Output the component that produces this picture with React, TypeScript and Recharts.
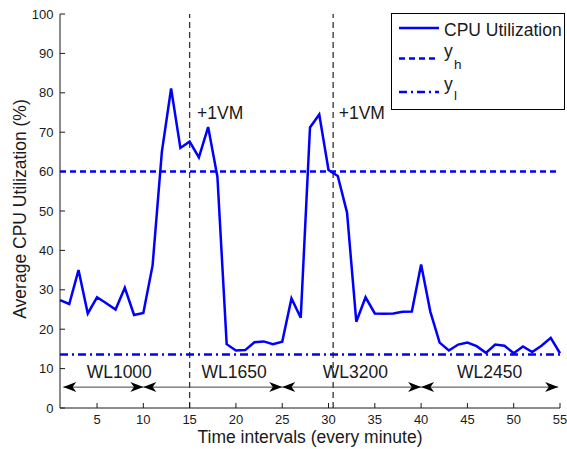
import React from "react"
import { LineChart, Line, XAxis, YAxis, ReferenceLine, ReferenceDot, Legend } from "recharts"

const FONT = '"Liberation Sans", Arial, Helvetica, sans-serif'
const BLUE = "#0000ff"
const INK = "#1a1a1a"

// one sample per minute
const minutes = [
  1, 2, 3, 4, 5, 6, 7, 8, 9, 10, 11, 12, 13, 14, 15, 16, 17, 18, 19, 20,
  21, 22, 23, 24, 25, 26, 27, 28, 29, 30, 31, 32, 33, 34, 35, 36, 37, 38, 39, 40,
  41, 42, 43, 44, 45, 46, 47, 48, 49, 50, 51, 52, 53, 54, 55,
]
const cpuUtilization = [
  27.4, 26.4, 35, 24, 28.1, 26.6, 25, 30.5, 23.6, 24.1, 36.2,
  65, 81.1, 66, 67.6, 63.6, 71.3, 58.7,
  16.2, 14.6, 14.7, 16.7, 16.9, 16.2, 16.8, 27.8, 22.9,
  71.2, 74.5, 60.4, 58.9, 49.6,
  21.9, 28.1, 24, 23.9, 24, 24.4, 24.5, 36.4,
  24.4, 16.6, 14.6, 16.1, 16.6, 15.7, 14, 16.1, 15.8, 13.9, 15.6, 14.2, 15.8, 17.8, 13.9,
]

const xTicks = [5, 10, 15, 20, 25, 30, 35, 40, 45, 50, 55]
const yTicks = [0, 10, 20, 30, 40, 50, 60, 70, 80, 90, 100]

// thresholds
const yHigh = 60
const yLow = 13.6

// scale-out events
const vmAddedAt = [15, 30.5]
const vmLabelX = [18.3, 33.6]
const vmLabelY = 75

// workload phases
const workloadNames = ["WL1000", "WL1650", "WL3200", "WL2450"]
const workloadStart = [1.35, 10, 25, 40]
const workloadEnd = [10, 25, 40, 54.8]
const workloadLabelX = [7.4, 19.8, 32.9, 47.4]
const workloadLabelY = 9.3
const arrowY = 5.3

const data = minutes.map((m, i) => ({ minute: m, cpu: cpuUtilization[i] }))

const BottomTick = (props: any) => {
  const { x, y, payload } = props
  return (
    <g>
      <line x1={x} x2={x} y1={y} y2={y - 5} stroke={INK} />
      <text x={x} y={y + 16} textAnchor="middle" fontSize={13} fill={INK} fontFamily={FONT}>
        {payload.value}
      </text>
    </g>
  )
}

const TopTick = (props: any) => {
  const { x, y } = props
  return <line x1={x} x2={x} y1={y} y2={y + 5} stroke={INK} />
}

const LeftTick = (props: any) => {
  const { x, y, payload } = props
  return (
    <g>
      <line x1={x} x2={x + 5} y1={y} y2={y} stroke={INK} />
      <text x={x - 6.5} y={y + 4.6} textAnchor="end" fontSize={13} fill={INK} fontFamily={FONT}>
        {payload.value}
      </text>
    </g>
  )
}

const RightTick = (props: any) => {
  const { x, y } = props
  return <line x1={x} x2={x - 5} y1={y} y2={y} stroke={INK} />
}

// double-headed arrow, MATLAB style heads
const arrowHead = (tx: number, y: number, dir: number) => {
  const L = 13
  const W = 5
  return `M${tx},${y} L${tx + dir * L},${y - W} L${tx + dir * L * 0.72},${y} L${tx + dir * L},${y + W} Z`
}

const DoubleArrow = (props: any) => {
  const { x1, y1, x2 } = props
  const left = Math.min(x1, x2)
  const right = Math.max(x1, x2)
  return (
    <g>
      <line x1={left} x2={right} y1={y1} y2={y1} stroke="#444" strokeWidth={1} />
      <path d={arrowHead(left, y1, 1)} fill="#000" />
      <path d={arrowHead(right, y1, -1)} fill="#000" />
    </g>
  )
}

const LegendBox = () => (
  <svg width={174} height={98} style={{ display: "block", fontFamily: FONT }}>
    <rect x={0.5} y={0.5} width={173} height={96} fill="#fff" stroke="#000" strokeWidth={1} />
    <line x1={8} x2={48} y1={15} y2={15} stroke={BLUE} strokeWidth={2.5} />
    <text x={53} y={22.5} fontSize={17.5} fill={INK}>CPU Utilization</text>
    <line x1={8} x2={48} y1={45.5} y2={45.5} stroke={BLUE} strokeWidth={2.5} strokeDasharray="6 4" />
    <text x={53} y={44} fontSize={17.5} fill={INK}>y</text>
    <text x={63} y={56} fontSize={13.5} fill={INK}>h</text>
    <line x1={8} x2={48} y1={79} y2={79} stroke={BLUE} strokeWidth={2.5} strokeDasharray="8 4 2 4" />
    <text x={53} y={77} fontSize={17.5} fill={INK}>y</text>
    <text x={63} y={87} fontSize={13.5} fill={INK}>l</text>
  </svg>
)

export default function App() {
  return (
    <div style={{ position: "absolute", left: 0, top: 0, width: 567, height: 449, background: "#fff" }}>
      <LineChart
        width={567}
        height={449}
        data={data}
        margin={{ top: 14, right: 7, bottom: 0, left: 15 }}
        style={{ fontFamily: FONT }}
      >
        <XAxis
          dataKey="minute"
          type="number"
          domain={[1, 55]}
          ticks={xTicks}
          interval={0}
          height={41}
          tickSize={0}
          tickMargin={0}
          tickLine={false}
          tick={<BottomTick />}
          axisLine={{ stroke: INK, strokeWidth: 1 }}
          label={() => (
            <text x={310} y={442.5} textAnchor="middle" fontSize={17.5} fill={INK} fontFamily={FONT}>
              Time intervals (every minute)
            </text>
          )}
        />
        <XAxis
          xAxisId="top"
          orientation="top"
          type="number"
          domain={[1, 55]}
          ticks={xTicks}
          interval={0}
          height={0}
          tickSize={0}
          tickMargin={0}
          tickLine={false}
          tick={<TopTick />}
          axisLine={{ stroke: INK, strokeWidth: 1 }}
        />
        <YAxis
          type="number"
          domain={[0, 100]}
          ticks={yTicks}
          interval={0}
          width={45}
          tickSize={0}
          tickMargin={0}
          tickLine={false}
          tick={<LeftTick />}
          axisLine={{ stroke: INK, strokeWidth: 1 }}
          label={() => (
            <text
              x={26}
              y={209}
              transform="rotate(-90 26 209)"
              textAnchor="middle"
              fontSize={17.5}
              fill={INK}
              fontFamily={FONT}
            >
              Average CPU Utilization (%)
            </text>
          )}
        />
        <YAxis
          yAxisId="right"
          orientation="right"
          type="number"
          domain={[0, 100]}
          ticks={yTicks}
          interval={0}
          width={0}
          tickSize={0}
          tickMargin={0}
          tickLine={false}
          tick={<RightTick />}
          axisLine={{ stroke: INK, strokeWidth: 1 }}
        />

        {vmAddedAt.map((x) => (
          <ReferenceLine key={`vm-${x}`} x={x} stroke="#333" strokeWidth={1.3} strokeDasharray="6 4" />
        ))}
        <ReferenceLine y={yHigh} stroke={BLUE} strokeWidth={2.5} strokeDasharray="6 4" />
        <ReferenceLine y={yLow} stroke={BLUE} strokeWidth={2.5} strokeDasharray="8 4 2 4" />

        {workloadNames.map((name, i) => (
          <ReferenceLine
            key={`arrow-${name}`}
            segment={[
              { x: workloadStart[i], y: arrowY },
              { x: workloadEnd[i], y: arrowY },
            ]}
            shape={<DoubleArrow />}
          />
        ))}
        {workloadNames.map((name, i) => (
          <ReferenceDot
            key={`wl-${name}`}
            x={workloadLabelX[i]}
            y={workloadLabelY}
            r={0}
            fill="none"
            stroke="none"
            label={{ value: name, position: "center", fontSize: 17.5, fill: INK, fontFamily: FONT }}
          />
        ))}
        {vmLabelX.map((x) => (
          <ReferenceDot
            key={`vml-${x}`}
            x={x}
            y={vmLabelY}
            r={0}
            fill="none"
            stroke="none"
            label={{ value: "+1VM", position: "center", fontSize: 17.5, fill: INK, fontFamily: FONT }}
          />
        ))}

        <Line
          type="linear"
          dataKey="cpu"
          name="CPU Utilization"
          stroke={BLUE}
          strokeWidth={2.5}
          dot={false}
          activeDot={false}
          isAnimationActive={false}
        />

        <Legend
          layout="vertical"
          align="center"
          verticalAlign="middle"
          content={<LegendBox />}
          wrapperStyle={{ left: 391, top: 13, width: 174, height: 98 }}
        />
      </LineChart>
    </div>
  )
}
